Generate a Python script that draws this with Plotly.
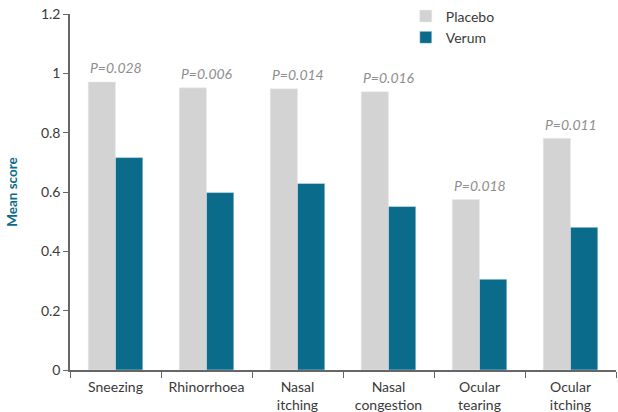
import plotly.graph_objects as go

categories = ["Sneezing", "Rhinorrhoea", "Nasal<br>itching", "Nasal<br>congestion", "Ocular<br>tearing", "Ocular<br>itching"]
placebo = [0.971, 0.951, 0.948, 0.938, 0.575, 0.781]
verum = [0.716, 0.598, 0.629, 0.551, 0.306, 0.481]
p_values = ["P=0.028", "P=0.006", "P=0.014", "P=0.016", "P=0.018", "P=0.011"]

FONT = "Lato, 'Open Sans', sans-serif"

fig = go.Figure()
fig.add_trace(go.Bar(x=categories, y=placebo, name="Placebo", marker_color="#d3d3d3"))
fig.add_trace(go.Bar(x=categories, y=verum, name="Verum", marker_color="#0a6b8a"))

for c, v, p in zip(categories, placebo, p_values):
    fig.add_annotation(x=c, y=v, text=p, showarrow=False, yshift=14,
                       font=dict(family=FONT, size=14, color="#8e8e8e", style="italic"))

fig.update_layout(
    width=618, height=412,
    margin=dict(l=70, r=2, t=13, b=42),
    plot_bgcolor="white", paper_bgcolor="white",
    barmode="group", bargap=0.4, bargroupgap=0,
    font=dict(family=FONT, size=14, color="#3a3a3a"),
    legend=dict(x=0.615, y=1.035, xanchor="left", yanchor="top", bgcolor="rgba(0,0,0,0)",
                font=dict(size=14, color="#3a3a3a"), itemwidth=30, tracegroupgap=0),
    showlegend=True,
)
fig.update_xaxes(showline=True, linecolor="#666666", linewidth=1.5, ticks="outside",
                 tickson="boundaries", ticklen=6, tickcolor="#666666", showgrid=False,
                 ticklabelstandoff=3, automargin=False,
                 tickfont=dict(size=14, color="#3a3a3a"))
fig.update_yaxes(range=[0, 1.2], dtick=0.2, showline=True, linecolor="#666666", linewidth=1.5,
                 ticks="outside", ticklen=5, tickcolor="#666666", showgrid=False, zeroline=False,
                 automargin=False,
                 tickfont=dict(size=14, color="#3a3a3a"),
                 title=dict(text="<b>Mean score</b>", font=dict(size=13.5, color="#0a6b8a"), standoff=20))

fig.write_html("out.html")
